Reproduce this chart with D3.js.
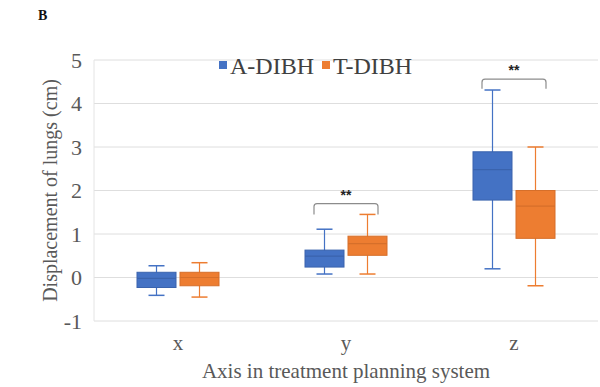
<!DOCTYPE html>
<html>
<head>
<meta charset="utf-8">
<script src="https://d3js.org/d3.v7.min.js"></script>
<style>
  body { margin: 0; background: #fff; }
  svg { display: block; font-family: "Liberation Serif", "Times New Roman", serif; }
</style>
</head>
<body>
<svg id="chart" width="600" height="387"></svg>
<script>
var categories = ['x', 'y', 'z'];
var seriesNames = ['A-DIBH', 'T-DIBH'];
var colors = ['#4472C4', '#ED7D31'];
var strokes = ['#3a63ad', '#d66f2a'];
// [min, q1, median, q3, max] per category
var aDibh = [
    [-0.41, -0.23, -0.02, 0.12, 0.27],
    [0.08, 0.24, 0.49, 0.63, 1.11],
    [0.2, 1.78, 2.48, 2.89, 4.31]
];
var tDibh = [
    [-0.45, -0.19, 0.0, 0.12, 0.34],
    [0.08, 0.51, 0.78, 0.95, 1.45],
    [-0.19, 0.9, 1.64, 2.0, 3.0]
];
var yTicks = [-1, 0, 1, 2, 3, 4, 5];
// significance markers: category, bracket level, tick bottom
var sigCats = ['y', 'z'];
var sigLevels = [1.7, 4.56];
var sigBottoms = [1.45, 4.34];

var svg = d3.select('#chart');
var plotLeft = 94, plotRight = 598, plotTop = 60, plotBottom = 321;

var x = d3.scaleBand().domain(categories).range([plotLeft, plotRight]);
var y = d3.scaleLinear().domain([-1, 5]).range([plotBottom, plotTop]);
var boxW = 39, gap = 4;

// gridlines
svg.append('g').selectAll('line').data(yTicks).enter().append('line')
    .attr('x1', plotLeft).attr('x2', plotRight)
    .attr('y1', function (d) { return y(d); }).attr('y2', function (d) { return y(d); })
    .attr('stroke', '#dedede').attr('stroke-width', 1);
svg.append('line').attr('x1', plotLeft).attr('x2', plotLeft).attr('y1', plotTop).attr('y2', plotBottom)
    .attr('stroke', '#e4e4e4');

// y axis
var yAxis = svg.append('g').attr('transform', 'translate(' + plotLeft + ',0)')
    .call(d3.axisLeft(y).tickValues(yTicks).tickSize(0).tickPadding(12)
        .tickFormat(function (d) { return d < 0 ? '-' + Math.abs(d) : String(d); }));
yAxis.select('.domain').remove();
yAxis.selectAll('text').attr('font-size', 22).attr('fill', '#595959')
    .attr('font-family', 'Liberation Serif');

// x axis
var xAxis = svg.append('g').attr('transform', 'translate(0,' + plotBottom + ')')
    .call(d3.axisBottom(x).tickSize(0).tickPadding(14));
xAxis.select('.domain').remove();
xAxis.selectAll('text').attr('font-size', 21).attr('fill', '#595959')
    .attr('font-family', 'Liberation Serif');

// boxes
[aDibh, tDibh].forEach(function (series, si) {
    var g = svg.append('g');
    series.forEach(function (s, ci) {
        var cx = x(categories[ci]) + x.bandwidth() / 2 + (si === 0 ? -(boxW + gap) / 2 : (boxW + gap) / 2);
        var col = colors[si], st = strokes[si];
        g.append('line').attr('x1', cx).attr('x2', cx).attr('y1', y(s[0])).attr('y2', y(s[4]))
            .attr('stroke', col).attr('stroke-width', 1.2);
        [s[0], s[4]].forEach(function (v) {
            g.append('line').attr('x1', cx - 8).attr('x2', cx + 8).attr('y1', y(v)).attr('y2', y(v))
                .attr('stroke', col).attr('stroke-width', 1.5);
        });
        g.append('rect').attr('x', cx - boxW / 2).attr('width', boxW)
            .attr('y', y(s[3])).attr('height', y(s[1]) - y(s[3]))
            .attr('fill', col).attr('stroke', st).attr('stroke-width', 1);
        g.append('line').attr('x1', cx - boxW / 2).attr('x2', cx + boxW / 2)
            .attr('y1', y(s[2])).attr('y2', y(s[2]))
            .attr('stroke', st).attr('stroke-width', 1.2);
    });
});

// significance brackets
sigCats.forEach(function (c, i) {
    var cx = x(c) + x.bandwidth() / 2;
    var x0 = cx - 32, x1 = cx + 32;
    var yl = y(sigLevels[i]), yb = y(sigBottoms[i]);
    svg.append('path')
        .attr('d', 'M' + x0 + ',' + yb + 'L' + x0 + ',' + (yl + 3) + 'Q' + x0 + ',' + yl + ' ' + (x0 + 3) + ',' + yl +
            'L' + (x1 - 3) + ',' + yl + 'Q' + x1 + ',' + yl + ' ' + x1 + ',' + (yl + 3) + 'L' + x1 + ',' + yb)
        .attr('fill', 'none').attr('stroke', '#8c8c8c').attr('stroke-width', 1.2);
    svg.append('text').attr('x', cx).attr('y', yl - 4).attr('text-anchor', 'middle')
        .attr('font-size', 14).attr('font-weight', 'bold').attr('fill', '#222')
        .attr('font-family', 'Liberation Sans').text('**');
});

// legend
var legend = svg.append('g').attr('transform', 'translate(219,74)');
var lx = 0;
seriesNames.forEach(function (n, i) {
    legend.append('rect').attr('x', lx).attr('y', -13).attr('width', 8).attr('height', 8).attr('fill', colors[i]);
    var t = legend.append('text').attr('x', lx + 11).attr('y', 0)
        .attr('font-size', 24).attr('fill', '#404040').text(n);
    lx += 11 + t.node().getComputedTextLength() + 8;
});

// axis titles
svg.append('text').attr('transform', 'translate(57,' + (plotTop + plotBottom) / 2 + ') rotate(-90)')
    .attr('text-anchor', 'middle').attr('font-size', 20).attr('fill', '#595959')
    .text('Displacement of lungs (cm)');
svg.append('text').attr('x', (plotLeft + plotRight) / 2).attr('y', 378).attr('text-anchor', 'middle')
    .attr('font-size', 21).attr('fill', '#595959').text('Axis in treatment planning system');

// panel label
svg.append('text').attr('x', 38).attr('y', 20).attr('font-size', 14).attr('font-weight', 'bold')
    .attr('fill', '#111').text('B');
</script>
</body>
</html>
